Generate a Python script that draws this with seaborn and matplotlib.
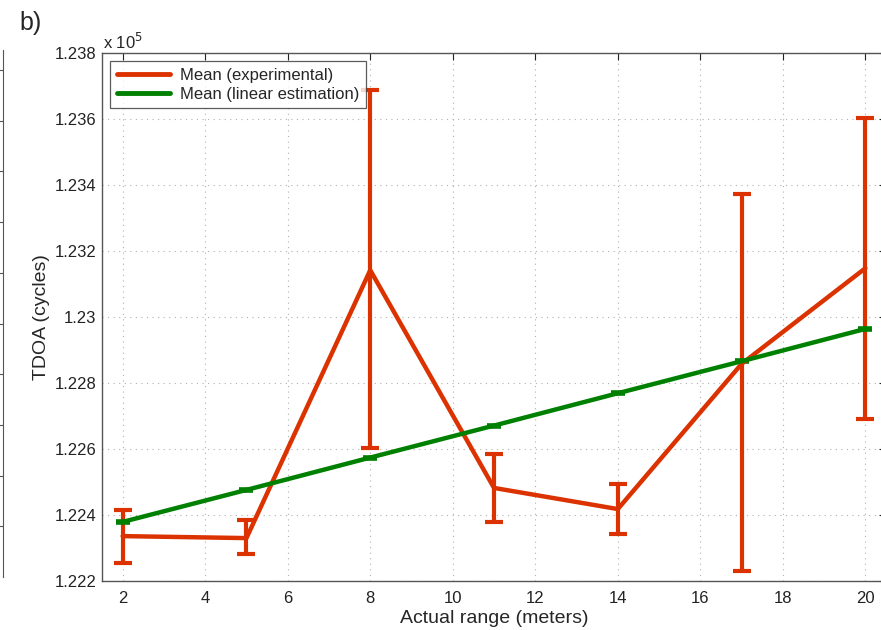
import numpy as np
import pandas as pd
import matplotlib
matplotlib.use("Agg")
import matplotlib.pyplot as plt
import seaborn as sns

# --- Data (TDOA in cycles) ---
ranges = [2, 5, 8, 11, 14, 17, 20]
exp_mean = [122336, 122330, 123142, 122482, 122418, 122858, 123148]
exp_low = [122255, 122282, 122603, 122379, 122342, 122230, 122691]
exp_high = [122415, 122385, 123688, 122585, 122494, 123373, 123603]
lin_mean = [122379, 122476, 122574, 122671, 122769, 122866, 122964]
lin_err = [3, 3, 3, 3, 3, 3, 3]

df = pd.DataFrame({"range": ranges, "exp": exp_mean, "lin": lin_mean})

red = "#dc3200"
green = "#008000"

sns.set_style("white")
plt.rcParams["font.family"] = ["Liberation Sans", "DejaVu Sans"]

fig = plt.figure(figsize=(8.81, 6.3), dpi=100)

# right spine of the neighbouring panel a), cropped at the left edge
ax0 = fig.add_axes([-0.5, 0.084, 0.503, 0.837])
for s in ["top", "bottom", "left"]:
    ax0.spines[s].set_visible(False)
ax0.spines["right"].set_color("#555555")
ax0.set_xticks([])
ax0.set_ylim(0, 10.4)
ax0.yaxis.tick_right()
ax0.set_yticks(np.arange(1, 11))
ax0.tick_params(axis="y", direction="in", length=5, color="#555555", labelright=False)

ax = fig.add_axes([0.1158, 0.0778, 0.8899, 0.838])

# --- Error bars ---
yerr = [np.array(exp_mean) - np.array(exp_low), np.array(exp_high) - np.array(exp_mean)]
ax.errorbar(ranges, exp_mean, yerr=yerr, fmt="none", ecolor=red, elinewidth=3.0,
            capsize=6.5, capthick=3.0, zorder=3)
ax.errorbar(ranges, lin_mean, yerr=lin_err, fmt="none", ecolor=green, elinewidth=2.4,
            capsize=5, capthick=2.6, zorder=3)

# --- Mean lines ---
sns.lineplot(data=df, x="range", y="exp", ax=ax, color=red, linewidth=3.2,
             label="Mean (experimental)", zorder=4)
sns.lineplot(data=df, x="range", y="lin", ax=ax, color=green, linewidth=3.2,
             label="Mean (linear estimation)", zorder=4)

ax.set_xlim(1.5, 20.5)
ax.set_ylim(122200, 123800)
ax.set_xticks(np.arange(2, 21, 2))
yt = np.arange(122200, 123801, 200)
ax.set_yticks(yt)
ax.set_yticklabels([f"{v / 1e5:.4g}" for v in yt])

ax.grid(True, linestyle=(0, (1, 4)), color="#b0b0b0", linewidth=0.8)
ax.tick_params(direction="in", length=5, labelsize=12, top=True, right=True,
               colors="#222222")
ax.tick_params(axis="y", pad=4)
ax.tick_params(axis="x", pad=7)
for s in ax.spines.values():
    s.set_color("#555555")
    s.set_linewidth(1.0)

ax.set_xlabel("Actual range (meters)", fontsize=14, labelpad=3)
ax.set_ylabel("TDOA (cycles)", fontsize=14, labelpad=3)

fig.text(0.117, 0.918, r"x 10$^5$", fontsize=12, ha="left", va="bottom")
fig.text(0.022, 0.964, "b)", fontsize=18, ha="left", va="center")

leg = ax.legend(loc="upper left", fontsize=12, frameon=True, fancybox=False,
                handlelength=3.2, borderaxespad=0.5, borderpad=0.4,
                labelspacing=0.22, handletextpad=0.6)
leg.get_frame().set_edgecolor("#333333")
leg.get_frame().set_linewidth(0.9)
for line in leg.get_lines():
    line.set_linewidth(3.5)

fig.savefig("out.png", dpi=100)
